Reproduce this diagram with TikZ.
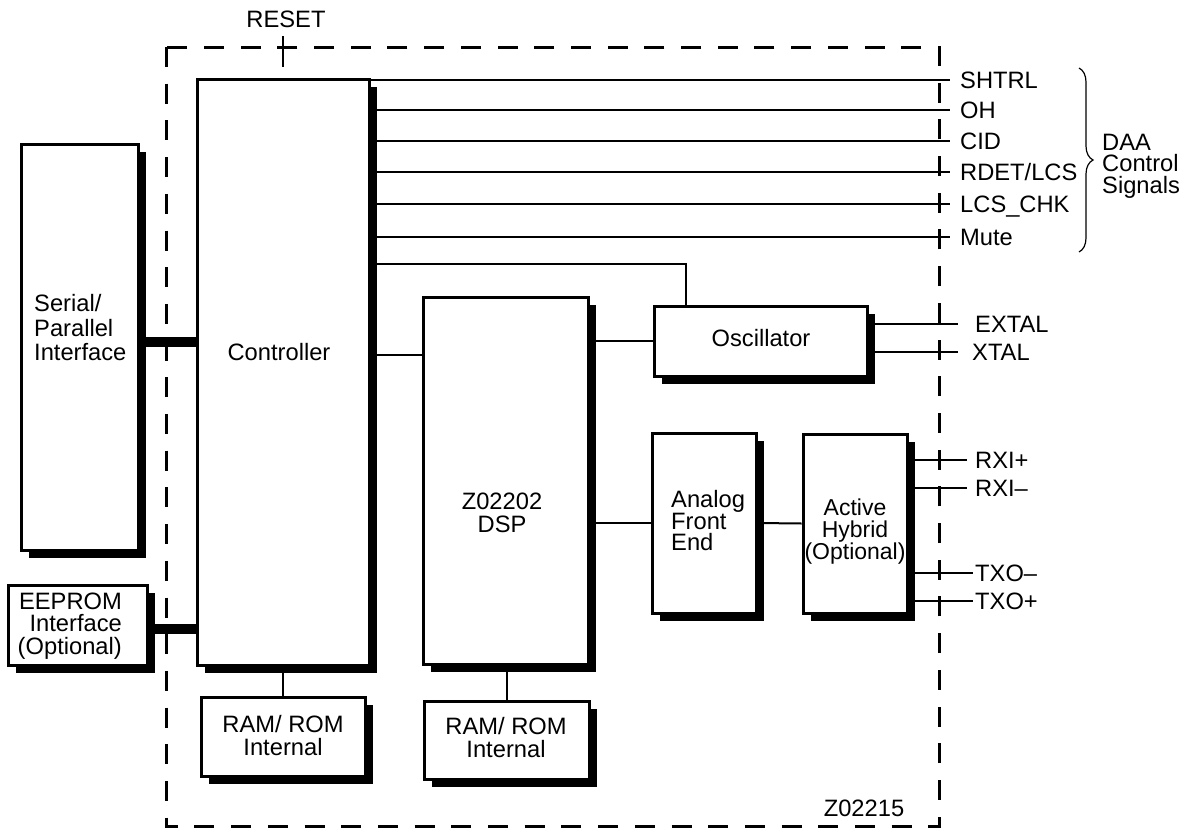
\documentclass[tikz,border=0pt]{standalone}
\usepackage{fontspec}
\setmainfont{Liberation Sans}
\usetikzlibrary{shadows,decorations.pathreplacing,calc,backgrounds}
\begin{document}
\begin{tikzpicture}[x=1pt,y=-1pt,
  every node/.style={font=\fontsize{23.7}{22.5}\selectfont},
  blk/.style={draw, line width=3pt, fill=white, inner sep=0pt,
    drop shadow={shadow xshift=8pt, shadow yshift=-8pt, fill=black, opacity=1}},
  lbl/.style={inner sep=0pt},
  sig/.style={inner sep=0pt, anchor=west, text height=17pt, text depth=0pt},
  wire/.style={line width=2pt},
  bus/.style={line width=10pt}]
\useasboundingbox (0,0) rectangle (1196,830);

% blocks
\node[blk, minimum width=172pt, minimum height=586pt] (ctrl) at (283,372) {};
\node[lbl] (ctrlT) at (279,352) {Controller};
\node[blk, minimum width=117pt, minimum height=406pt] (ser) at (79.5,347) {};
\node[lbl, anchor=west, align=left, font=\fontsize{23.7}{24.5}\selectfont] (serT) at (34,328) {Serial/\\Parallel\\Interface};
\node[blk, minimum width=139pt, minimum height=80pt] (eep) at (77.5,625) {};
\node[lbl, anchor=east, align=right] (eepT) at (122,626) {EEPROM\\Interface\\(Optional)};
\node[blk, minimum width=164pt, minimum height=79pt] (ram1) at (283,736.5) {};
\node[lbl, align=center, font=\fontsize{23.7}{23}\selectfont] (ram1T) at (283,736) {RAM/ ROM\\Internal};
\node[blk, minimum width=165pt, minimum height=367pt] (dsp) at (505.5,480.5) {};
\node[lbl, align=center, font=\fontsize{23.7}{23}\selectfont] (dspT) at (502,513) {Z02202\\DSP};
\node[blk, minimum width=165pt, minimum height=78pt] (ram2) at (506.5,740) {};
\node[lbl, align=center, font=\fontsize{23.7}{23}\selectfont] (ram2T) at (506,738) {RAM/ ROM\\Internal};
\node[blk, minimum width=213pt, minimum height=70pt] (osc) at (760.5,341) {};
\node[lbl] (oscT) at (761,338) {Oscillator};
\node[blk, minimum width=104pt, minimum height=180pt] (afe) at (704,523) {};
\node[lbl, anchor=west, align=left, font=\fontsize{23.7}{21.5}\selectfont] (afeT) at (671,521) {Analog\\Front\\End};
\node[blk, minimum width=104pt, minimum height=179pt] (hyb) at (855,523.5) {};
\node[lbl, align=center, font=\fontsize{23}{22}\selectfont] (hybT) at (855,532) {Active\\Hybrid\\(Optional)};

% signal labels
\node[sig] (sa) at (960,80) {SHTRL};
\node[sig] (sb) at (960,110) {OH};
\node[sig] (sc) at (960,141) {CID};
\node[sig] (sd) at (960,172) {RDET/LCS};
\node[sig] (se) at (960,204) {LCS\_CHK};
\node[sig] (sf) at (960,237) {Mute};
\node[sig] (ex) at (975,324) {EXTAL};
\node[sig] (xt) at (972,352) {XTAL};
\node[sig] (r1) at (975,460) {RXI+};
\node[sig] (r2) at (975,488) {RXI–};
\node[sig] (t1) at (975,573) {TXO–};
\node[sig] (t2) at (975,601) {TXO+};
\node[lbl, anchor=west, align=left, font=\fontsize{23.7}{21.5}\selectfont] (daa) at (1102,166) {DAA\\Control\\Signals};
\node[lbl] (reset) at (286,19) {RESET};
\node[lbl] (fig) at (864,808) {Z02215};
\coordinate (rstE) at (283,67);

\begin{scope}[on background layer]
\draw[line width=3pt, dash pattern=on 20pt off 16.7pt] (166,47) rectangle (939,826);
\foreach \n in {sa,sb,sc,sd,se,sf}
  \draw[wire] (ctrl.east |- \n.west) -- ([xshift=-10pt]\n.west);
\draw[wire] (ctrl.east |- 0,264) -| ($(osc.north west)+(33,0)$);
\draw[wire] (ctrl.east |- 0,355) -- (dsp.west |- 0,355);
\draw[wire] (osc.west) -- (osc.west -| dsp.east);
\draw[wire] (ram2.north) -- (ram2.north |- dsp.south);
\draw[wire] (ram1.north) -- (ram1.north |- ctrl.south);
\draw[wire] (afe.west) -- (afe.west -| dsp.east);
\draw[wire] (afe.east) -- (hyb.west);
\draw[wire] (osc.east |- ex.west) -- ([xshift=-17pt]ex.west);
\draw[wire] (osc.east |- xt.west) -- ([xshift=-14pt]xt.west);
\draw[wire] (hyb.east |- r1.west) -- ([xshift=-8pt]r1.west);
\draw[wire] (hyb.east |- r2.west) -- ([xshift=-8pt]r2.west);
\draw[wire] (hyb.east |- t1.west) -- ([xshift=-2pt]t1.west);
\draw[wire] (hyb.east |- t2.west) -- ([xshift=-2pt]t2.west);
\draw[bus] (ser.east |- 0,342) -- (ctrl.west |- 0,342);
\draw[bus] (eep.east |- 0,629) -- (ctrl.west |- 0,629);
\draw[wire] (rstE |- 0,36) -- (rstE);
\end{scope}
\draw[line width=1.2pt, decorate, decoration={brace, amplitude=14pt}] (1079,68) -- (1079,252);
\end{tikzpicture}
\end{document}
